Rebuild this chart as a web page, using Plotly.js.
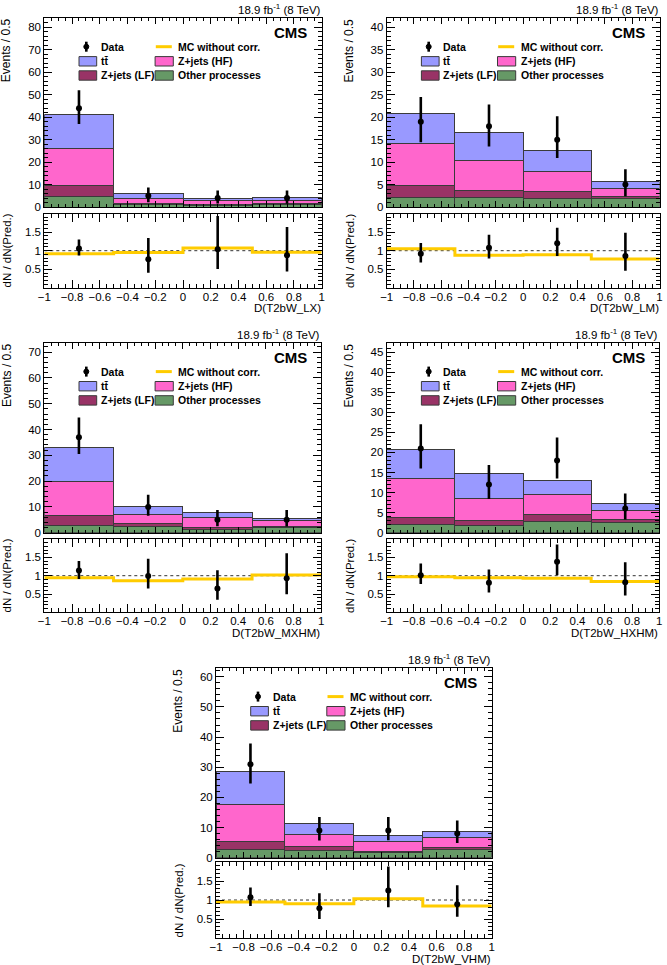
<!DOCTYPE html>
<html><head><meta charset="utf-8">
<script src="https://cdn.plot.ly/plotly-3.0.1.min.js"></script>
<style>html,body{margin:0;padding:0;background:#fff}</style>
</head><body><div id="chart" style="width:667px;height:965px"></div>
<script>
// ================= DATA =================
const binEdges = [-1, -0.5, 0, 0.5, 1];
const xTickVals = [-1, -0.8, -0.6, -0.4, -0.2, 0, 0.2, 0.4, 0.6, 0.8, 1];
const xTickText = ["\u22121", "\u22120.8", "\u22120.6", "\u22120.4", "\u22120.2", "0", "0.2", "0.4", "0.6", "0.8", "1"];
const ratioTickVals = [0.5, 1, 1.5];
const ratioTickText = ["0.5", "1", "1.5"];
const lumiText = "18.9 fb<sup>-1</sup> (8 TeV)";
const legendLabels = ["Data", "MC without corr.", "tt\u0304", "Z+jets (HF)", "Z+jets (LF)", "Other processes"];
const xTitles = ["D(T2bW_LX)", "D(T2bW_LM)", "D(T2bW_MXHM)", "D(T2bW_HXHM)", "D(T2bW_VHM)"];

// LX
const otherLX = [4.9, 1.2, 0.6, 1.2];
const lfLX    = [4.9, 0.5, 0.4, 0.4];
const hfLX    = [16.2, 2.1, 1.7, 1.2];
const ttLX    = [15.0, 2.4, 0.9, 1.5];
const dataLX  = [44, 5, 4, 4];
const dataUpLX = [8.0, 3.7, 3.3, 3.4];
const dataDnLX = [7.0, 2.9, 2.4, 2.5];
const ratioLX = [1.06, 0.77, 1.04, 0.88];
const ratioUpLX = [0.24, 0.57, 0.89, 0.76];
const ratioDnLX = [0.19, 0.36, 0.53, 0.44];
const mcLX = [0.92, 0.95, 1.07, 0.96];

// LM
const otherLM = [2.2, 2.1, 1.9, 1.8];
const lfLM    = [2.5, 1.5, 1.5, 0.6];
const hfLM    = [9.4, 6.7, 4.5, 1.7];
const ttLM    = [6.7, 6.4, 4.6, 1.6];
const dataLM  = [19, 18, 15, 5];
const dataUpLM = [5.5, 4.8, 5.2, 3.4];
const dataDnLM = [4.6, 4.5, 4.1, 2.6];
const ratioLM = [0.92, 1.08, 1.20, 0.86];
const ratioUpLM = [0.29, 0.35, 0.42, 0.62];
const ratioDnLM = [0.24, 0.29, 0.34, 0.40];
const mcLM = [1.05, 0.875, 0.89, 0.78];

// MXHM
const otherMXHM = [2.8, 2.3, 1.3, 2.0];
const lfMXHM    = [3.8, 1.1, 0.6, 0.4];
const hfMXHM    = [13.2, 3.6, 4.0, 2.4];
const ttMXHM    = [13.1, 3.2, 1.8, 0.8];
const dataMXHM  = [37, 10, 5, 5];
const dataUpMXHM = [7.6, 4.7, 3.8, 3.8];
const dataDnMXHM = [6.5, 3.4, 2.5, 2.6];
const ratioMXHM = [1.14, 0.99, 0.65, 0.93];
const ratioUpMXHM = [0.26, 0.47, 0.50, 0.68];
const ratioDnMXHM = [0.23, 0.34, 0.31, 0.44];
const mcMXHM = [0.945, 0.86, 0.91, 1.02];

// HXHM
const otherHXHM = [2.0, 1.7, 2.8, 2.6];
const lfHXHM    = [1.9, 1.4, 1.8, 0.6];
const hfHXHM    = [9.5, 5.5, 5.0, 2.3];
const ttHXHM    = [7.4, 6.2, 3.5, 1.8];
const dataHXHM  = [21, 12, 18, 6];
const dataUpHXHM = [6.0, 4.9, 5.7, 3.8];
const dataDnHXHM = [5.0, 3.6, 4.5, 2.7];
const ratioHXHM = [1.01, 0.81, 1.38, 0.82];
const ratioUpHXHM = [0.32, 0.36, 0.47, 0.55];
const ratioDnHXHM = [0.24, 0.27, 0.37, 0.36];
const mcHXHM = [0.97, 0.945, 0.93, 0.84];

// VHM
const otherVHM = [2.6, 2.4, 1.8, 2.6];
const lfVHM    = [2.8, 1.2, 0.2, 0.9];
const hfVHM    = [12.2, 4.0, 3.5, 3.1];
const ttVHM    = [11.1, 3.9, 1.7, 2.2];
const dataVHM  = [31, 9, 9, 8];
const dataUpVHM = [6.9, 4.5, 4.5, 4.3];
const dataDnVHM = [6.4, 3.3, 3.2, 3.1];
const ratioVHM = [1.07, 0.78, 1.25, 0.89];
const ratioUpVHM = [0.26, 0.40, 0.63, 0.50];
const ratioDnVHM = [0.23, 0.28, 0.44, 0.33];
const mcVHM = [0.95, 0.90, 1.03, 0.84];

// main y-axis ranges / tick steps
const mainYMax = [84, 42, 73.4, 47.2, 62.8];
const mainYTick = [10, 5, 10, 5, 10];

// ================= LAYOUT CONSTANTS =================
const W = 667, H = 965;
const FONT = "Liberation Sans, Arial, Helvetica, sans-serif";
const COL = {tt: "#9999ff", hf: "#ff66cc", lf: "#993366", other: "#669966", mc: "#ffcc00", edge: "#3a3a3a"};
const frames = [
  {L: 44.3, R: 321.7, mT: 18.4, mB: 207, rT: 213.5, rB: 287.9},
  {L: 386.7, R: 659.5, mT: 18.4, mB: 207, rT: 213.5, rB: 287.9},
  {L: 44.3, R: 321.3, mT: 343.3, mB: 532.7, rT: 539.1, rB: 612.3},
  {L: 386.7, R: 659.3, mT: 343.3, mB: 532.7, rT: 539.1, rB: 612.3},
  {L: 216, R: 491.7, mT: 668.3, mB: 857.7, rT: 862, rB: 938}
];
const px = v => v / W;
const py = v => 1 - v / H;

const panels = [
  {other: otherLX, lf: lfLX, hf: hfLX, tt: ttLX, data: dataLX, up: dataUpLX, dn: dataDnLX, r: ratioLX, rUp: ratioUpLX, rDn: ratioDnLX, mc: mcLX},
  {other: otherLM, lf: lfLM, hf: hfLM, tt: ttLM, data: dataLM, up: dataUpLM, dn: dataDnLM, r: ratioLM, rUp: ratioUpLM, rDn: ratioDnLM, mc: mcLM},
  {other: otherMXHM, lf: lfMXHM, hf: hfMXHM, tt: ttMXHM, data: dataMXHM, up: dataUpMXHM, dn: dataDnMXHM, r: ratioMXHM, rUp: ratioUpMXHM, rDn: ratioDnMXHM, mc: mcMXHM},
  {other: otherHXHM, lf: lfHXHM, hf: hfHXHM, tt: ttHXHM, data: dataHXHM, up: dataUpHXHM, dn: dataDnHXHM, r: ratioHXHM, rUp: ratioUpHXHM, rDn: ratioDnHXHM, mc: mcHXHM},
  {other: otherVHM, lf: lfVHM, hf: hfVHM, tt: ttVHM, data: dataVHM, up: dataUpVHM, dn: dataDnVHM, r: ratioVHM, rUp: ratioUpVHM, rDn: ratioDnVHM, mc: mcVHM}
];

const centers = binEdges.slice(0, -1).map((e, i) => (e + binEdges[i + 1]) / 2);
const widths = binEdges.slice(0, -1).map((e, i) => binEdges[i + 1] - e);

const traces = [];
const layout = {
  width: W, height: H,
  margin: {l: 0, r: 0, t: 0, b: 0},
  showlegend: false,
  barmode: "stack", bargap: 0,
  paper_bgcolor: "#fff", plot_bgcolor: "rgba(0,0,0,0)",
  font: {family: FONT, color: "#000", size: 11},
  shapes: [], annotations: []
};

function axName(n) { return n === 1 ? "" : String(n); }

panels.forEach((p, i) => {
  const f = frames[i];
  const nM = 2 * i + 1, nR = 2 * i + 2;
  const xm = "x" + axName(nM), ym = "y" + axName(nM);
  const xr = "x" + axName(nR), yr = "y" + axName(nR);

  const common = {
    showline: true, linecolor: "#000", linewidth: 1, mirror: "ticks",
    ticks: "inside", tickcolor: "#000", showgrid: false, zeroline: false,
    fixedrange: true, tickfont: {family: FONT, size: 11.5, color: "#000"}
  };
  // main x
  layout["xaxis" + axName(nM)] = Object.assign({}, common, {
    domain: [px(f.L), px(f.R)], range: [-1, 1], anchor: ym,
    tickmode: "array", tickvals: xTickVals, showticklabels: false, ticklen: 6,
    minor: {ticks: "inside", tick0: -1, dtick: 0.05, ticklen: 3, tickcolor: "#000"}
  });
  layout["yaxis" + axName(nM)] = Object.assign({}, common, {
    domain: [py(f.mB), py(f.mT)], range: [0, mainYMax[i]], anchor: xm,
    tickmode: "linear", tick0: 0, dtick: mainYTick[i], ticklen: 8,
    minor: {ticks: "inside", tick0: 0, dtick: mainYTick[i] / 5, ticklen: 4, tickcolor: "#000"}
  });
  // ratio x
  layout["xaxis" + axName(nR)] = Object.assign({}, common, {
    domain: [px(f.L), px(f.R)], range: [-1, 1], anchor: yr,
    tickmode: "array", tickvals: xTickVals, ticktext: xTickText, ticklen: 8, ticklabelstandoff: -2,
    minor: {ticks: "inside", tick0: -1, dtick: 0.05, ticklen: 4, tickcolor: "#000"}
  });
  layout["yaxis" + axName(nR)] = Object.assign({}, common, {
    domain: [py(f.rB), py(f.rT)], range: [0, 2], anchor: xr,
    tickmode: "array", tickvals: ratioTickVals, ticktext: ratioTickText, ticklen: 8,
    minor: {ticks: "inside", tick0: 0, dtick: 0.1, ticklen: 4, tickcolor: "#000"}
  });

  // stacked histogram
  [["other", COL.other], ["lf", COL.lf], ["hf", COL.hf], ["tt", COL.tt]].forEach(([k, c]) => {
    traces.push({
      type: "bar", x: centers, y: p[k], width: widths, xaxis: xm, yaxis: ym,
      marker: {color: c, line: {color: COL.edge, width: 1}}, hoverinfo: "skip"
    });
  });
  // data
  traces.push({
    type: "scatter", mode: "markers", x: centers, y: p.data, xaxis: xm, yaxis: ym,
    marker: {color: "#000", size: 6, symbol: "circle"},
    error_y: {type: "data", symmetric: false, array: p.up, arrayminus: p.dn, color: "#000", thickness: 2.6, width: 0},
    hoverinfo: "skip", cliponaxis: false
  });
  // ratio: MC without corr (step line)
  traces.push({
    type: "scatter", mode: "lines", x: binEdges, y: p.mc.concat([p.mc[p.mc.length - 1]]),
    xaxis: xr, yaxis: yr, line: {color: COL.mc, width: 3, shape: "hv"}, hoverinfo: "skip"
  });
  traces.push({
    type: "scatter", mode: "markers", x: centers, y: p.r, xaxis: xr, yaxis: yr,
    marker: {color: "#000", size: 6},
    error_y: {type: "data", symmetric: false, array: p.rUp, arrayminus: p.rDn, color: "#000", thickness: 2.6, width: 0},
    hoverinfo: "skip"
  });
  // unity line
  layout.shapes.push({type: "line", xref: xr, yref: yr, x0: binEdges[0], x1: binEdges[binEdges.length - 1], y0: 1, y1: 1,
    line: {color: "#333", width: 1, dash: "dot"}, layer: "below"});

  // texts
  const A = layout.annotations;
  A.push({xref: "paper", yref: "paper", x: px(f.R + 1), y: py(f.mT - 9), xanchor: "right", yanchor: "middle",
    text: lumiText, showarrow: false, font: {family: FONT, size: 11.5, color: "#000"}});
  A.push({xref: "paper", yref: "paper", x: px(f.R - 12.5), y: py(f.mT + 14), xanchor: "right", yanchor: "middle",
    text: "<b>CMS</b>", showarrow: false, font: {family: FONT, size: 15, color: "#000"}});
  A.push({xref: "paper", yref: "paper", x: px(f.L - 37.5), y: py(f.mT - 2), xanchor: "center", yanchor: "top",
    text: "Events / 0.5", textangle: -90, showarrow: false, font: {family: FONT, size: 12, color: "#000"}});
  A.push({xref: "paper", yref: "paper", x: px(f.L - 37.5), y: py((f.rT + f.rB) / 2), xanchor: "center", yanchor: "middle",
    text: "dN / dN(Pred.)", textangle: -90, showarrow: false, font: {family: FONT, size: 11.5, color: "#000"}});
  A.push({xref: "paper", yref: "paper", x: px(f.R + 1), y: py(f.rB + 20.5), xanchor: "right", yanchor: "middle",
    text: xTitles[i], showarrow: false, font: {family: FONT, size: 11.5, color: "#000"}});

  // legend
  const L = f.L, T = f.mT;
  const rows = [T + 28.3, T + 42.9, T + 57.1];
  const c1Box = [L + 34.7, L + 52.4], c2Box = [L + 110.8, L + 129], c1Txt = L + 54.5, c2Txt = L + 131.8;
  const S = layout.shapes;
  // data symbol
  S.push({type: "line", xref: "paper", yref: "paper", x0: px(L + 42), x1: px(L + 42), y0: py(rows[0] - 5), y1: py(rows[0] + 5),
    line: {color: "#000", width: 2.6}});
  S.push({type: "circle", xref: "paper", yref: "paper", x0: px(L + 39.5), x1: px(L + 44.5), y0: py(rows[0] - 2.5), y1: py(rows[0] + 2.5),
    fillcolor: "#000", line: {color: "#000", width: 1}});
  // MC line
  S.push({type: "line", xref: "paper", yref: "paper", x0: px(L + 111.5), x1: px(L + 127.5), y0: py(rows[0]), y1: py(rows[0]),
    line: {color: COL.mc, width: 3}});
  const boxes = [[c1Box, rows[1], COL.tt], [c2Box, rows[1], COL.hf], [c1Box, rows[2], COL.lf], [c2Box, rows[2], COL.other]];
  boxes.forEach(([bx, yc, c]) => {
    S.push({type: "rect", xref: "paper", yref: "paper", x0: px(bx[0]), x1: px(bx[1]), y0: py(yc - 4.7), y1: py(yc + 4.7),
      fillcolor: c, line: {color: COL.edge, width: 1}});
  });
  const txts = [[c1Txt, rows[0], legendLabels[0]], [c2Txt, rows[0], legendLabels[1]], [c1Txt, rows[1], legendLabels[2]],
                [c2Txt, rows[1], legendLabels[3]], [c1Txt, rows[2], legendLabels[4]], [c2Txt, rows[2], legendLabels[5]]];
  txts.forEach(([x, y, t]) => {
    A.push({xref: "paper", yref: "paper", x: px(x), y: py(y), xanchor: "left", yanchor: "middle",
      text: "<b>" + t + "</b>", showarrow: false, font: {family: FONT, size: 10.5, color: "#000"}});
  });
});

Plotly.newPlot("chart", traces, layout, {staticPlot: true, displayModeBar: false});
</script>
</body></html>
